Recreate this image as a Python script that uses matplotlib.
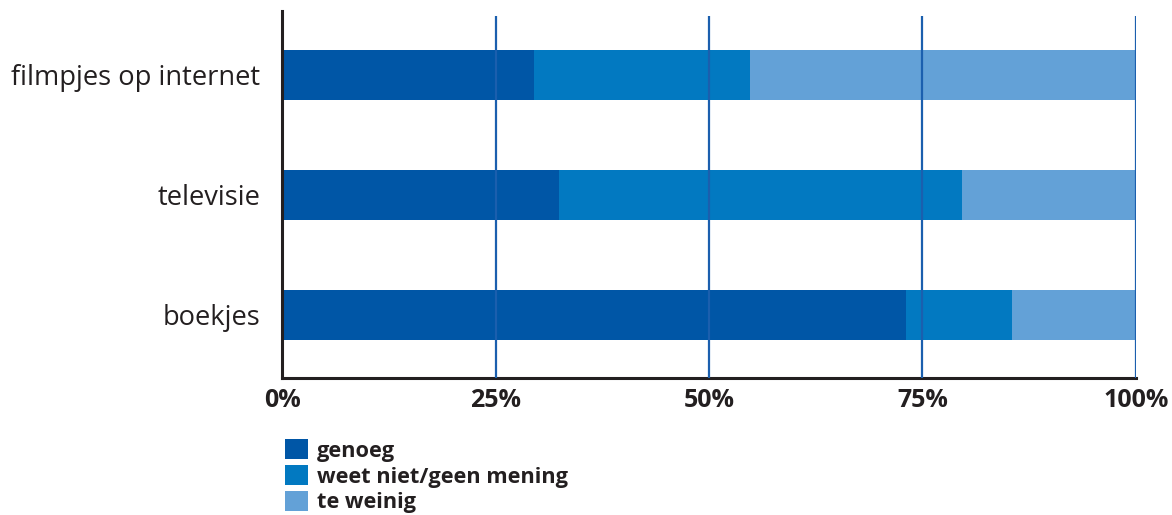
import matplotlib.pyplot as plt
import numpy as np

plt.rcParams['font.family'] = ['Open Sans', 'DejaVu Sans']

categories = ["boekjes", "televisie", "filmpjes op internet"]
genoeg = [73.1, 32.4, 29.5]
weet_niet = [12.4, 47.2, 25.3]
te_weinig = [14.5, 20.4, 45.2]
series_labels = ["genoeg", "weet niet/geen mening", "te weinig"]
ticks = [0, 25, 50, 75, 100]
tick_labels = ["0%", "25%", "50%", "75%", "100%"]

colors = ["#0056a6", "#0279c1", "#63a1d7"]
grid_col = "#1b5fae"
axis_col = "#231f20"

fig = plt.figure(figsize=(11.72, 5.15), dpi=100)
W, H = 1172, 515
ax = fig.add_axes([282.3 / W, 1 - 378 / H, (1135.7 - 282.3) / W, (378 - 11) / H])

y = np.arange(len(categories))
left = np.zeros(len(categories))
for vals, col, lab in zip((genoeg, weet_niet, te_weinig), colors, series_labels):
    ax.barh(y, vals, left=left, height=0.42, color=col, label=lab, zorder=2)
    left = left + np.array(vals)

ax.vlines(ticks[1:], -0.525, 2.495, color=grid_col, lw=1.6, zorder=3)

ax.set_xlim(0, 100)
ax.set_ylim(-0.525, 2.533)
ax.set_xticks(ticks)
ax.set_xticklabels(tick_labels, fontsize=18, fontweight='bold', color=axis_col)
ax.set_yticks(y)
ax.set_yticklabels(categories, fontsize=19.6, color=axis_col)
ax.tick_params(axis='both', length=0)
ax.tick_params(axis='x', pad=7)
ax.tick_params(axis='y', pad=16)

for s in ("top", "right"):
    ax.spines[s].set_visible(False)
for s in ("left", "bottom"):
    ax.spines[s].set_color(axis_col)
    ax.spines[s].set_linewidth(2.2)

fs = 15.7
ax.legend(loc='upper left', bbox_to_anchor=(285 / W, 1 - 439 / H),
          bbox_transform=fig.transFigure, frameon=False,
          prop={'weight': 'bold', 'size': fs},
          handlelength=1.06, handleheight=1.06, handletextpad=0.42,
          labelspacing=0.15, borderpad=0, borderaxespad=0)
for t in ax.get_legend().get_texts():
    t.set_color(axis_col)

plt.savefig("out.png", dpi=100)
